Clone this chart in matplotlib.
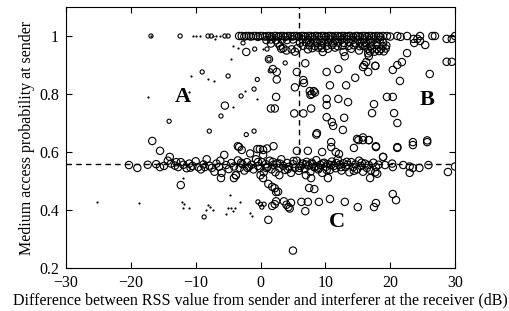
import numpy as np
import matplotlib
matplotlib.use("Agg")
import matplotlib.pyplot as plt

# --- data ----------------------------------------------------------------
# tiny filled dots
dot_x = [-17.4, -11.0, -10.7, -10.4, -9.9, -9.4, -7.3, -6.8, -6.2, -7.0,
         -4.2, -3.5, -4.55, -8.1, -7.2, -2.4, -0.5, 0.4, -4.2, -12.0,
         -25.2, -18.7, -12.1, -11.8, -12.0, -11.0, -8.1, -7.8, -8.4, -7.3,
         -4.7, -5.3, -5.0, -4.6, -3.9, -4.2, -3.2, -1.6, -1.3, -16.9]
dot_y = [0.790, 0.807, 0.862, 1.0, 1.0, 1.0, 1.0, 1.0, 1.0, 0.990,
         0.966, 0.960, 0.920, 0.852, 0.845, 0.810, 0.783, 0.955, 0.755, 0.510,
         0.428, 0.424, 0.428, 0.420, 0.406, 0.406, 0.417, 0.412, 0.400, 0.400,
         0.450, 0.386, 0.406, 0.406, 0.406, 0.397, 0.427, 0.390, 0.380, 1.0]

# small circles
small_x = [-12.4, -8.1, -7.6, -5.5, -5.0, -9.0, -5.0, -3.0, -1.0, -6.1,
           -14.1, -7.9, -2.2, -1.0, -16.9, 1.0, 1.3, 1.5, -0.5, -8.7,
           -0.4, 0.0, 0.2, 0.55, -2.7, -0.9, 3.8]
small_y = [1.0, 1.0, 1.0, 1.0, 1.0, 0.876, 0.862, 0.793, 0.817, 0.724,
           0.706, 0.672, 0.660, 0.672, 1.0, 0.955, 0.920, 0.880, 0.850, 0.376,
           0.428, 0.420, 0.410, 0.420, 0.976, 0.955, 0.907]

# top row (y close to 1)
top_x = [-3.3, -2.9, -2.5, -2.2, -1.8, -1.5, -1.1, -0.7, -0.4, -0.1,
         0.3, 0.7, 1.0, 1.4, 1.7, 2.1, 2.4, 2.8, 3.1, 3.5,
         3.8, 4.2, 4.6, 4.9, 5.2, 5.6, 5.9, 6.3, 6.6, 6.9,
         7.3, 7.7, 8.0, 8.4, 8.7, 9.0, 9.4, 9.8, 10.1, 10.5,
         10.8, 11.1, 11.5, 11.9, 12.2, 12.5, 12.9, 13.3, 13.6, 13.9,
         14.3, 14.7, 15.0, 15.3, 15.7, 16.1, 16.4, 16.7, 17.1, 17.5,
         17.8, 18.2, 18.5, 18.9, 19.5, 20.0, 21.1, 21.6, 22.6, 23.6,
         24.2, 24.6, 26.5, 26.9, 28.7, 29.5, 30.0]
top_y = [1.0, 1.0, 0.998, 1.0, 1.0, 0.998, 1.0, 1.0, 0.997, 1.0,
         1.0, 0.998, 1.0, 1.0, 0.997, 1.0, 1.0, 0.998, 1.0, 1.0,
         0.997, 1.0, 1.0, 0.998, 1.0, 1.0, 0.997, 1.0, 1.0, 0.998,
         1.0, 1.0, 0.997, 1.0, 1.0, 0.998, 1.0, 1.0, 0.997, 1.0,
         1.0, 0.998, 1.0, 1.0, 0.997, 1.0, 1.0, 0.998, 1.0, 1.0,
         0.997, 1.0, 1.0, 0.998, 1.0, 1.0, 0.997, 1.0, 1.0, 0.998,
         1.0, 1.0, 0.997, 1.0, 1.0, 0.998, 1.0, 0.997, 1.0, 0.990,
         0.990, 1.0, 1.0, 1.0, 0.990, 0.990, 1.0]

# dense block just under the top row
block_x = [0.9, 1.6, 2.4, 3.3, 4.1, 5.0, 6.5, 7.4, 8.2, 9.1, 10.0, 10.8,
           11.6, 12.5, 13.3, 14.2, 15.0, 15.9, 16.8, 17.6, 18.4,
           6.1, 7.0, 7.8, 8.7, 9.5, 10.4, 11.2, 12.0, 12.9, 13.7, 14.6,
           15.4, 16.3, 17.1, 18.0, 18.9,
           6.6, 7.5, 8.4, 9.3, 10.2, 11.0, 11.9, 12.7, 13.6, 14.4, 15.3,
           16.1, 17.0, 17.9, 18.8, 19.4,
           16.5, 17.2, 17.9, 18.6, 19.3, 16.9, 17.6, 18.3, 19.0]
block_y = [0.986, 0.988, 0.985, 0.987, 0.986, 0.988, 0.988, 0.986, 0.988,
           0.987, 0.986, 0.988, 0.986, 0.987, 0.988, 0.986, 0.987, 0.988,
           0.986, 0.988, 0.987,
           0.976, 0.978, 0.975, 0.977, 0.976, 0.978, 0.975, 0.977, 0.976,
           0.978, 0.975, 0.977, 0.976, 0.978, 0.975, 0.977,
           0.966, 0.968, 0.965, 0.967, 0.966, 0.968, 0.965, 0.967, 0.966,
           0.968, 0.965, 0.967, 0.966, 0.968, 0.965, 0.967,
           0.956, 0.957, 0.955, 0.956, 0.957, 0.947, 0.946, 0.948, 0.947]

# band around the horizontal dashed line
band_x = [-20.3, -19.0, -17.4, -16.1, -15.5, -14.9, -14.3, -13.8, -13.2,
          -12.7, -12.3, -11.9, -11.4, -11.0, -10.5, -10.0, -9.6, -9.2,
          -8.8, -8.3, -7.9, -7.5, -7.1, -6.8, -6.4, -6.0, -5.6, -5.3,
          -4.9, -4.5, -4.1, -3.8, -3.5, -3.2, -2.8, -2.5, -2.1, -1.8,
          -1.4, -1.1, -0.7, -0.4, -0.1, 0.2, 0.5, 0.8, 1.1, 1.4, 1.7,
          2.0, 2.3, 2.6, 2.9, 3.2, 3.5, 3.8, 4.1, 4.4, 4.7, 5.0, 5.3,
          5.6, 5.9, 6.2, 6.5, 6.8, 7.1, 7.4, 7.7, 8.0, 8.3, 8.6, 8.9,
          9.2, 9.5, 9.8, 10.1, 10.4, 10.7, 11.0, 11.3, 11.6, 11.9, 12.2,
          12.5, 12.8, 13.1, 13.4, 13.7, 14.0, 14.3, 14.6, 14.9, 15.2,
          15.5, 15.8, 16.1, 16.4, 16.7, 17.0, 17.4, 17.8, 18.2,
          3.0, 4.2, 5.1, 6.0, 7.0, 7.9, 8.5, 9.0, 9.6, 10.2, 10.9, 11.7,
          12.4, 13.3, 14.4, 15.6, 1.9, 0.9, -0.4, -2.0, -3.0, -6.2, -8.6,
          -10.8, -13.0,
          18.9, 19.2, 20.3, 20.4, 22.0, 23.0, 23.5, 23.0, 24.5, 25.9,
          28.9, 30.0, 16.9, 17.7, 18.0]
band_y = [0.555, 0.545, 0.556, 0.558, 0.548, 0.552, 0.570, 0.560, 0.553,
          0.548, 0.565, 0.556, 0.544, 0.560, 0.552, 0.568, 0.548, 0.540,
          0.557, 0.575, 0.553, 0.545, 0.532, 0.560, 0.549, 0.528, 0.590,
          0.555, 0.541, 0.562, 0.550, 0.520, 0.571, 0.545, 0.558, 0.536,
          0.565, 0.549, 0.556, 0.540, 0.575, 0.552, 0.545, 0.565, 0.530,
          0.558, 0.548, 0.570, 0.540, 0.556, 0.530, 0.561, 0.545, 0.575,
          0.552, 0.538, 0.562, 0.549, 0.528, 0.558, 0.545, 0.570, 0.535,
          0.552, 0.560, 0.541, 0.566, 0.553, 0.532, 0.558, 0.547, 0.572,
          0.540, 0.556, 0.528, 0.563, 0.549, 0.558, 0.538, 0.567, 0.552,
          0.544, 0.574, 0.556, 0.536, 0.561, 0.548, 0.556, 0.530, 0.565,
          0.548, 0.557, 0.540, 0.570, 0.552, 0.532, 0.560, 0.545, 0.555,
          0.537, 0.563, 0.548, 0.556,
          0.560, 0.541, 0.569, 0.545, 0.557, 0.563, 0.550, 0.545, 0.560,
          0.538, 0.555, 0.562, 0.548, 0.566, 0.535, 0.563, 0.566, 0.545,
          0.565, 0.545, 0.563, 0.570, 0.548, 0.546, 0.565,
          0.583, 0.555, 0.560, 0.548, 0.555, 0.550, 0.545, 0.528, 0.545,
          0.555, 0.531, 0.550, 0.510, 0.530, 0.525]

# remaining (large) circles scattered across the field
big_x = [-16.7, -15.5, -14.0, -5.5, -3.5, -2.9, -2.2, -1.6, -0.1, 0.4,
         1.0, 2.0, 2.5, 2.5, 2.4, 1.6, 2.2, 1.3, 1.9, 2.7, 3.5, 5.3,
         5.6, 6.9, 6.6, 6.7, 5.3, 7.6, 7.9, 8.2, 7.7, 8.4, 5.2, 6.6,
         7.8, 10.2, 12.0, 14.6, 10.7, 13.2, 15.8, 16.0, 16.3, 16.6, 17.7,
         10.2, 10.2, 12.0, 13.5, 10.2, 11.0, 11.2, 12.9, 8.7, 12.7,
         14.9, 15.8, 16.7, 17.8, 21.1, 23.5, 25.7, 17.5, 17.2, 20.6,
         21.1, 19.5, 20.4, 21.5, 26.1, 20.4, 21.1, 21.8, 22.6, 23.7,
         24.6, 25.4, 28.7, 29.5, 16.6, 16.7, 17.7,
         1.6, 3.2, 3.0, 4.0, 4.8, 5.7, 7.3, 8.0, 9.6, 10.4, 11.5, 12.8,
         13.0, 14.0, 15.2, 15.8, 8.9, 9.5,
         5.6, 7.3, 9.5, 10.9, 10.9, 11.6, 12.1, 14.4, 15.1, 15.8, 8.6,
         16.7, 17.8, 21.1, 23.5, 25.7, -3.3, -0.5, 0.4, 18.9,
         -12.3, -6.1, -4.1, -3.8, 0.0, 0.4, 1.2, 1.8, 2.4, 2.2, 2.7, 2.9,
         7.0, 7.8, 7.5, 8.3, 10.4,
         1.8, 2.2, 3.6, 4.0, 4.3, 4.7, 4.5, 6.3, 7.3, 6.9, 9.0, 10.7,
         13.0, 15.0, 17.5, 17.8, 20.4, 20.9, 1.2, 5.0, 2.4]
big_y = [0.638, 0.604, 0.583, 0.760, 0.620, 0.607, 0.945, 0.595, 0.610,
         0.607, 0.612, 0.620, 0.850, 0.876, 0.790, 0.750, 0.750, 0.920,
         0.886, 0.975, 0.958, 0.946, 0.876, 0.906, 0.848, 0.838, 0.823,
         0.810, 0.800, 0.810, 0.797, 0.805, 0.733, 0.733, 0.750, 0.876,
         0.886, 0.856, 0.830, 0.830, 0.893, 0.900, 0.910, 0.940, 0.897,
         0.783, 0.762, 0.783, 0.772, 0.720, 0.703, 0.690, 0.718, 0.665,
         0.676, 0.645, 0.650, 0.641, 0.620, 0.617, 0.634, 0.640, 0.765,
         0.734, 0.734, 0.700, 0.790, 0.790, 0.845, 0.869, 0.883, 0.900,
         0.910, 0.941, 0.976, 0.983, 0.969, 0.911, 0.911, 0.876, 0.930,
         0.897,
         0.974, 0.956, 0.966, 0.950, 0.954, 0.958, 0.954, 0.958, 0.945,
         0.956, 0.960, 0.945, 0.930, 0.956, 0.950, 0.966, 0.960, 0.958,
         0.604, 0.604, 0.600, 0.634, 0.617, 0.600, 0.593, 0.614, 0.641,
         0.641, 0.660, 0.641, 0.617, 0.614, 0.624, 0.634, 0.617, 0.610,
         0.590, 0.583,
         0.486, 0.510, 0.510, 0.520, 0.520, 0.510, 0.490, 0.480, 0.462,
         0.475, 0.463, 0.520, 0.520, 0.510, 0.476, 0.472, 0.510,
         0.414, 0.420, 0.430, 0.418, 0.410, 0.425, 0.405, 0.428, 0.428,
         0.396, 0.428, 0.438, 0.428, 0.410, 0.410, 0.424, 0.455, 0.434,
         0.366, 0.260, 0.430]

threshold_x = 6.0
threshold_y = 0.56
region_labels = ["A", "B", "C"]
region_x = [-12.0, 25.7, 11.8]
region_y = [0.79, 0.78, 0.36]

# --- plot ------------------------------------------------------------------
plt.rcParams['font.family'] = ['Liberation Serif', 'DejaVu Serif']
plt.rcParams['font.size'] = 11.5

fig = plt.figure(figsize=(5.09, 3.11), dpi=100)
ax = fig.add_axes([0.1297, 0.1383, 0.7643, 0.8392])

ax.plot([-30, 30], [threshold_y, threshold_y], 'k--', lw=1.0, dashes=(4, 3))
ax.plot([threshold_x, threshold_x], [threshold_y, 1.1], 'k--', lw=1.0, dashes=(4, 3))

ring = dict(facecolors='none', edgecolors='k', linewidths=0.8)
ax.scatter(top_x + block_x + band_x + big_x, top_y + block_y + band_y + big_y,
           s=28, **ring)
ax.scatter(small_x, small_y, s=9, **ring)
ax.scatter(dot_x, dot_y, s=2.5, c='k', linewidths=0)

for lab, lx, ly in zip(region_labels, region_x, region_y):
    ax.text(lx, ly, lab, fontsize=16, fontweight='bold', ha='center', va='center')

ax.set_xlim(-30, 30)
ax.set_ylim(0.2, 1.1)
ax.set_xticks([-30, -20, -10, 0, 10, 20, 30])
ax.set_yticks([0.2, 0.4, 0.6, 0.8, 1.0])
ax.set_yticklabels(['0.2', '0.4', '0.6', '0.8', '1'])
ax.tick_params(direction='in', top=True, right=True, length=4, width=0.8)
ax.tick_params(axis='x', pad=5)
ax.tick_params(axis='y', pad=5)
for sp in ax.spines.values():
    sp.set_linewidth(0.8)

ax.set_xlabel('Difference between RSS value from sender and interferer at the receiver (dB)',
              labelpad=1)
ax.set_ylabel('Medium access probability at sender', labelpad=3)

fig.savefig('out.png', dpi=100)
